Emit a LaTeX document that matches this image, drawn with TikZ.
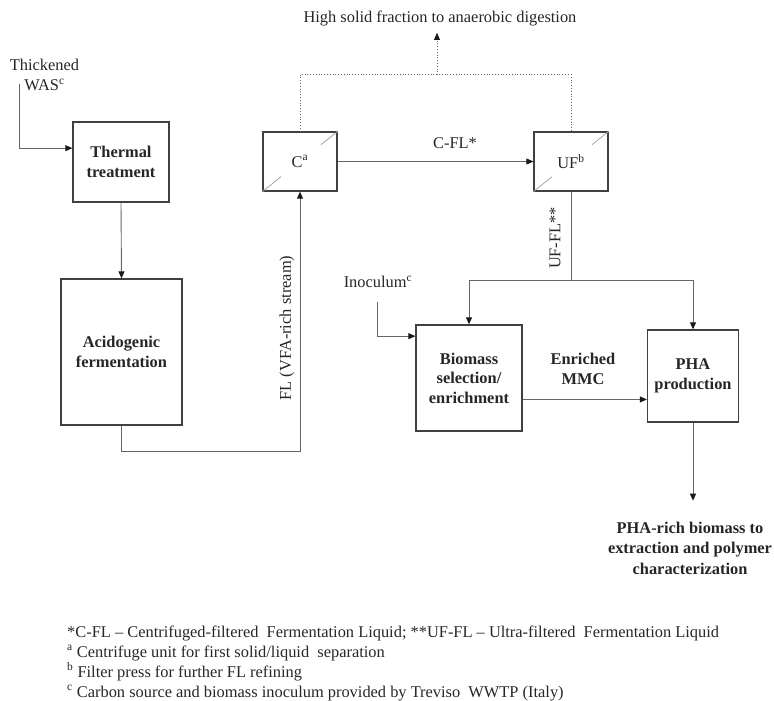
\documentclass[tikz,border=0pt]{standalone}
\usepackage{fontspec}
\setmainfont{Liberation Serif}
\usetikzlibrary{arrows.meta,calc}
\begin{document}
\begin{tikzpicture}[x=1pt,y=-1pt,
  every node/.style={font=\fontsize{16.4}{19.5}\selectfont, text=black!85, inner sep=1pt},
  box/.style={draw=black!75, line width=1.3pt, align=center, font=\fontsize{16.4}{19.5}\selectfont\bfseries},
  unit/.style={draw=black!75, line width=1.3pt, minimum width=74pt, minimum height=59pt},
  conn/.style={draw=black!60, line width=0.9pt, -{Triangle[length=7pt,width=6pt,color=black!90]}},
  plainline/.style={draw=black!60, line width=0.9pt},
  slash/.style={draw=black!35, line width=0.8pt},
  dotline/.style={draw=black!60, line width=0.8pt, dotted}]
\useasboundingbox (0,0) rectangle (774,701);

% boxes
\node[box, minimum width=96pt, minimum height=80pt] (thermal) at (121,162) {Thermal\\treatment};
\node[box, minimum width=121pt, minimum height=146pt] (acid) at (121.5,352) {Acidogenic\\fermentation};
\node[unit] (c) at (300,161.5) {C\textsuperscript{a}};
\node[unit] (uf) at (571,161.5) {UF\textsuperscript{b}};
\node[box, minimum width=106pt, minimum height=106pt] (bio) at (469,378) {Biomass\\selection/\\enrichment};
\node[box, minimum width=91pt, minimum height=92pt] (pha) at (693,376) {PHA\\production};

% slashes in separation units
\draw[slash] (c.south west) -- ($(c.south west)!0.25!(c.north east)$);
\draw[slash] (c.north east) -- ($(c.north east)!0.22!(c.south west)$);
\draw[slash] (uf.south west) -- ($(uf.south west)!0.25!(uf.north east)$);
\draw[slash] (uf.north east) -- ($(uf.north east)!0.22!(uf.south west)$);

% texts
\node[align=center] (was) at (44.5,75) {Thickened\\WAS\textsuperscript{c}};
\node (high) at (440,18) {High solid fraction to anaerobic digestion};
\node (cfl) at (455,143) {C-FL*};
\node[rotate=90] (ufl) at (555,238) {UF-FL**};
\node[rotate=90] (fl) at (287,328) {FL (VFA-rich stream)};
\node (ino) at (378,282) {Inoculum\textsuperscript{c}};
\node[align=center, font=\fontsize{16.4}{19.5}\selectfont\bfseries] (mmc) at (583,369) {Enriched\\MMC};
\node[align=center, font=\fontsize{16.4}{20.5}\selectfont\bfseries] (rich) at (690,548) {PHA-rich biomass to\\extraction and polymer\\characterization};
\node[align=left, anchor=west, font=\fontsize{16.4}{20}\selectfont] (notes) at (66,663) {*C-FL -- Centrifuged-filtered\ \ Fermentation Liquid; **UF-FL -- Ultra-filtered\ \ Fermentation Liquid\\
\textsuperscript{a} Centrifuge unit for first solid/liquid\ \ separation\\
\textsuperscript{b} Filter press for further FL refining\\
\textsuperscript{c} Carbon source and biomass inoculum provided by Treviso\ \ WWTP (Italy)};

% connectors
\coordinate (wastail) at (19,84);
\coordinate (thermalin) at ($(thermal.north west)!0.33!(thermal.south west)$);
\draw[conn] (wastail) |- (thermalin);
\draw[conn] (thermal.south) -- (acid.north);
\draw[conn] (acid.south) -- ++(0,26) -| (c.south);
\draw[conn] (c.east) -- (uf.west);
\draw[dotline] (c.north) -- ++(0,-57) -| (uf.north);
\coordinate (hsbase) at (437,75);
\coordinate (hstip) at (437,33);
\draw[dotline] (hsbase) -- (hstip);
\draw[conn] ($(hstip)+(0,1)$) -- (hstip);
\coordinate (br) at (571,280);
\draw[plainline] (uf.south) -- (br);
\draw[conn] (br) -| (bio.north);
\draw[conn] (br) -| (pha.north);
\coordinate (inotail) at (377,302);
\coordinate (bioin) at ($(bio.north west)!0.11!(bio.south west)$);
\draw[conn] (inotail) |- (bioin);
\coordinate (bioout) at ($(bio.north east)!0.7!(bio.south east)$);
\draw[conn] (bioout) -- (bioout -| pha.west);
\draw[conn] (pha.south) -- ++(0,78);
\end{tikzpicture}
\end{document}
